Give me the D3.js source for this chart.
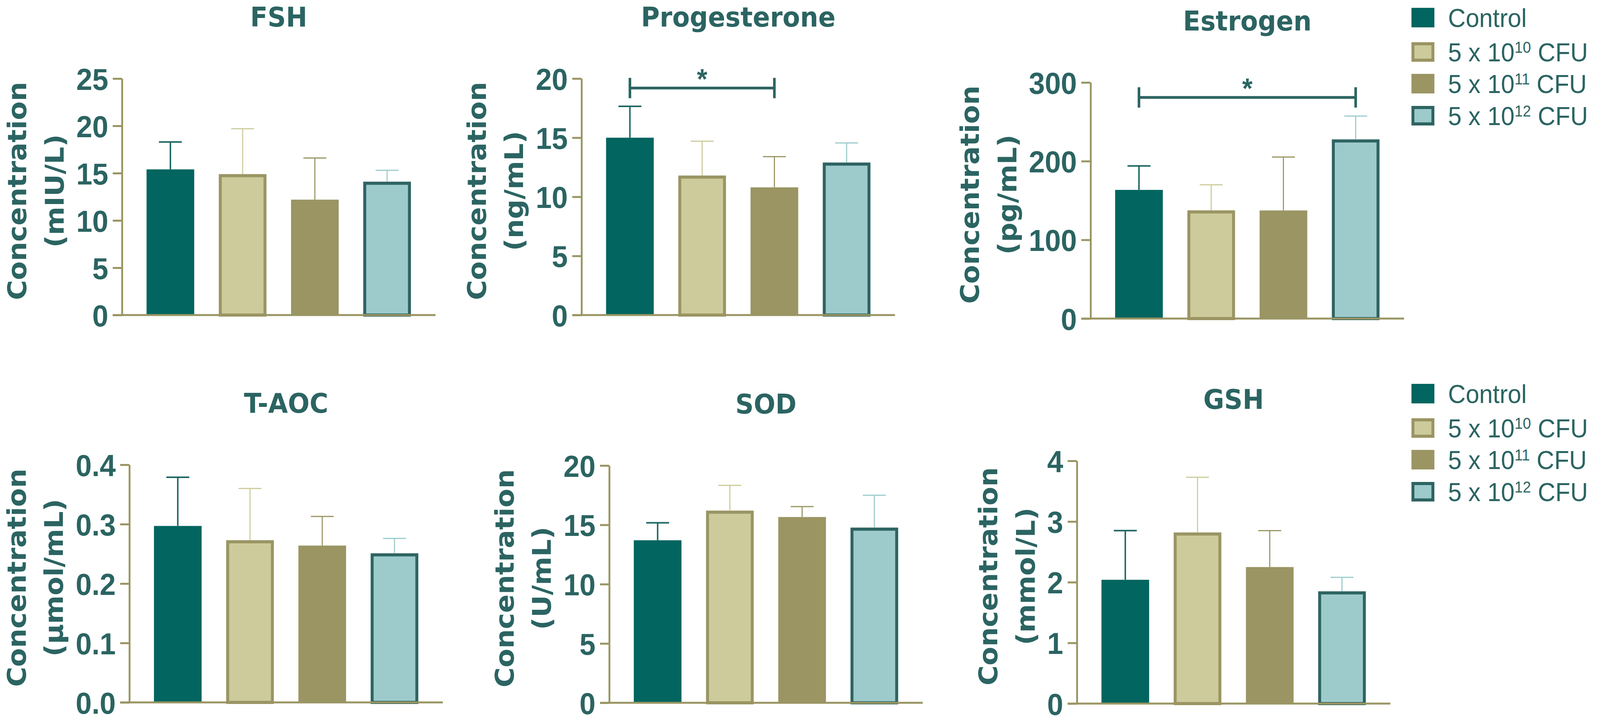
<!DOCTYPE html>
<html>
<head>
<meta charset="utf-8">
<script src="https://cdn.jsdelivr.net/npm/d3@7"></script>
<style>
  body { margin: 0; background: #fff; overflow: hidden; }
  svg { display: block; }
</style>
</head>
<body>
<div id="chart"></div>
<script>
// groups, in legend order
const groups = ['Control', '5 x 10^10 CFU', '5 x 10^11 CFU', '5 x 10^12 CFU'];
const groupExp = ['', '10', '11', '12'];

// values (mean, upper error)
const fshMean = [15.4, 14.9, 12.2, 14.1];
const fshErr = [2.9, 4.8, 4.4, 1.2];
const fshTicks = [0, 5, 10, 15, 20, 25];

const progMean = [15.0, 11.8, 10.8, 12.9];
const progErr = [2.65, 2.9, 2.6, 1.65];
const progTicks = [0, 5, 10, 15, 20];
const progSig = [{ from: 0, to: 2, y: 19.2, label: '*' }];

const estMean = [163.5, 137.5, 137.4, 227.7];
const estErr = [30.5, 32.5, 67.8, 29.6];
const estTicks = [0, 100, 200, 300];
const estSig = [{ from: 0, to: 3, y: 281, label: '*' }];

const taocMean = [0.297, 0.273, 0.264, 0.251];
const taocErr = [0.082, 0.087, 0.049, 0.025];
const taocTicks = [0, 0.1, 0.2, 0.3, 0.4];

const sodMean = [13.7, 16.2, 15.66, 14.77];
const sodErr = [1.47, 2.13, 0.88, 2.73];
const sodTicks = [0, 5, 10, 15, 20];

const gshMean = [2.04, 2.82, 2.25, 1.85];
const gshErr = [0.81, 0.91, 0.60, 0.23];
const gshTicks = [0, 1, 2, 3, 4];

const teal = '#2b6462';
const olive = '#9a9563';
const fills = ['#02655f', '#cdcb9b', '#9a9563', '#9dcbcc'];
const outlines = [null, '#9a9563', null, '#2e6462'];
const errColors = ['#1d6762', '#cdcb9b', '#9a9563', '#9dcbcc'];
const errWidths = [4, 3, 3, 3];

const panels = [
  { title: 'FSH', unit: '(mIU/L)', mean: fshMean, err: fshErr, ticks: fshTicks, fmt: d3.format('d'), axisX: 330, top: 201, bottom: 806 },
  { title: 'Progesterone', unit: '(ng/mL)', mean: progMean, err: progErr, ticks: progTicks, fmt: d3.format('d'), sig: progSig, axisX: 1573, top: 201, bottom: 806 },
  { title: 'Estrogen', unit: '(pg/mL)', mean: estMean, err: estErr, ticks: estTicks, fmt: d3.format('d'), sig: estSig, axisX: 2950, top: 211, bottom: 815 },
  { title: 'T-AOC', unit: '(µmol/mL)', mean: taocMean, err: taocErr, ticks: taocTicks, fmt: d3.format('.1f'), axisX: 350, top: 1189, bottom: 1797 },
  { title: 'SOD', unit: '(U/mL)', mean: sodMean, err: sodErr, ticks: sodTicks, fmt: d3.format('d'), axisX: 1648, top: 1191, bottom: 1798 },
  { title: 'GSH', unit: '(mmol/L)', mean: gshMean, err: gshErr, ticks: gshTicks, fmt: d3.format('d'), axisX: 2913, top: 1179, bottom: 1800 }
];

// the figure is laid out in a 4328 x 1842 frame and stretched to the window
const frameW = 4328;
const frameH = 1842;
const plotWidth = 848;
const tickLen = 25;
const tickPad = 12;

const svg = d3.select('#chart').append('svg')
  .attr('width', window.innerWidth)
  .attr('height', window.innerHeight)
  .attr('viewBox', `0 0 ${frameW} ${frameH}`)
  .attr('preserveAspectRatio', 'none');

svg.append('rect')
  .attr('width', frameW)
  .attr('height', frameH)
  .attr('fill', '#fff');

function makePanel(p) {
  const g = svg.append('g');

  const x = d3.scaleBand()
    .domain(groups)
    .range([p.axisX, p.axisX + plotWidth])
    .paddingInner(0.34)
    .paddingOuter(0.34);

  const y = d3.scaleLinear()
    .domain([0, d3.max(p.ticks)])
    .range([p.bottom, p.top]);

  const rows = groups.map((grp, i) => ({ grp, i, mean: p.mean[i], err: p.err[i] }));

  // bars, outlined ones drawn with the stroke inside the band
  g.append('g')
    .selectAll('rect')
    .data(rows)
    .join('rect')
    .attr('x', d => outlines[d.i] ? x(d.grp) + 4 : x(d.grp))
    .attr('y', d => outlines[d.i] ? y(d.mean) + 4 : y(d.mean))
    .attr('width', d => outlines[d.i] ? x.bandwidth() - 8 : x.bandwidth())
    .attr('height', d => outlines[d.i] ? y(0) - y(d.mean) - 4 : y(0) - y(d.mean))
    .attr('fill', d => fills[d.i])
    .attr('stroke', d => outlines[d.i] || 'none')
    .attr('stroke-width', 8);

  // error bars (upper only)
  const errG = g.append('g')
    .selectAll('g')
    .data(rows)
    .join('g')
    .attr('stroke', d => errColors[d.i])
    .attr('stroke-width', d => errWidths[d.i]);

  errG.append('line')
    .attr('x1', d => x(d.grp) + x.bandwidth() / 2)
    .attr('x2', d => x(d.grp) + x.bandwidth() / 2)
    .attr('y1', d => y(d.mean))
    .attr('y2', d => y(d.mean + d.err));

  errG.append('line')
    .attr('x1', d => x(d.grp) + x.bandwidth() / 2 - 31)
    .attr('x2', d => x(d.grp) + x.bandwidth() / 2 + 31)
    .attr('y1', d => y(d.mean + d.err))
    .attr('y2', d => y(d.mean + d.err));

  // y axis
  const yAxis = d3.axisLeft(y)
    .tickValues(p.ticks)
    .tickFormat(p.fmt)
    .tickSize(tickLen)
    .tickSizeOuter(0)
    .tickPadding(tickPad);

  const yg = g.append('g')
    .attr('transform', `translate(${p.axisX},0)`)
    .call(yAxis);

  yg.select('.domain')
    .attr('stroke', olive)
    .attr('stroke-width', 5);
  yg.selectAll('.tick line')
    .attr('stroke', olive)
    .attr('stroke-width', 5);
  yg.selectAll('.tick text')
    .attr('fill', teal)
    .attr('font-family', '"Liberation Sans", Arial, sans-serif')
    .attr('font-weight', 'bold')
    .attr('font-size', 78)
    .attr('dy', '0.36em');

  // x axis line
  g.append('line')
    .attr('x1', p.axisX - tickLen)
    .attr('x2', p.axisX + plotWidth)
    .attr('y1', y(0))
    .attr('y2', y(0))
    .attr('stroke', olive)
    .attr('stroke-width', 5);

  // title
  g.append('text')
    .attr('x', p.axisX + plotWidth / 2)
    .attr('y', p.top - 133)
    .attr('text-anchor', 'middle')
    .attr('fill', teal)
    .attr('font-family', '"DejaVu Sans", sans-serif')
    .attr('font-weight', 'bold')
    .attr('font-size', 69)
    .text(p.title);

  // y axis title, placed left of the widest tick label
  const maxW = d3.max(yg.selectAll('.tick text').nodes(), n => n.getComputedTextLength());
  const lx2 = p.axisX - tickLen - tickPad - maxW - 34;
  const lx1 = lx2 - 101;
  const cy = (p.top + p.bottom) / 2 - 15;

  g.selectAll('.ylabel')
    .data([['Concentration', lx1], [p.unit, lx2]])
    .join('text')
    .attr('class', 'ylabel')
    .attr('transform', d => `translate(${d[1]},${cy}) rotate(-90)`)
    .attr('text-anchor', 'middle')
    .attr('fill', teal)
    .attr('font-family', '"DejaVu Sans", sans-serif')
    .attr('font-weight', 'bold')
    .attr('font-size', 70)
    .text(d => d[0]);

  // significance brackets
  if (p.sig) {
    const cx = i => x(groups[i]) + x.bandwidth() / 2;
    const sg = g.append('g')
      .selectAll('g')
      .data(p.sig)
      .join('g');

    sg.append('path')
      .attr('d', d => `M${cx(d.from)},${y(d.y) - 26}V${y(d.y) + 26}M${cx(d.from)},${y(d.y)}H${cx(d.to)}M${cx(d.to)},${y(d.y) - 26}V${y(d.y) + 26}`)
      .attr('fill', 'none')
      .attr('stroke', teal)
      .attr('stroke-width', 7);

    sg.append('text')
      .attr('x', d => (cx(d.from) + cx(d.to)) / 2)
      .attr('y', d => y(d.y) + 2)
      .attr('text-anchor', 'middle')
      .attr('fill', teal)
      .attr('font-family', '"Liberation Sans", Arial, sans-serif')
      .attr('font-weight', 'bold')
      .attr('font-size', 72)
      .text(d => d.label);
  }
}

panels.forEach(makePanel);

// legends
const legendSpots = [{ x: 3818, y: 45 }, { x: 3818, y: 1007 }];
const legendOffsets = [0, 88, 169, 251];

legendSpots.forEach(spot => {
  const lg = svg.append('g')
    .selectAll('g')
    .data(groups)
    .join('g')
    .attr('transform', (d, i) => `translate(${spot.x},${spot.y + legendOffsets[i]})`);

  lg.append('rect')
    .attr('x', (d, i) => outlines[i] ? 4 : 0)
    .attr('y', (d, i) => outlines[i] ? -21 : -25)
    .attr('width', (d, i) => outlines[i] ? 54 : 62)
    .attr('height', (d, i) => outlines[i] ? 42 : 50)
    .attr('fill', (d, i) => fills[i])
    .attr('stroke', (d, i) => outlines[i] || 'none')
    .attr('stroke-width', 8);

  const t = lg.append('text')
    .attr('x', 99)
    .attr('y', 0)
    .attr('dy', '0.36em')
    .attr('fill', teal)
    .attr('font-family', '"Liberation Sans", Arial, sans-serif')
    .attr('font-size', 66);

  t.filter((d, i) => !groupExp[i]).text(d => d);

  const dose = t.filter((d, i) => !!groupExp[i]);
  dose.append('tspan').text('5 x 10');
  dose.append('tspan')
    .attr('dy', -22)
    .attr('font-size', 40)
    .text(d => groupExp[groups.indexOf(d)]);
  dose.append('tspan')
    .attr('dy', 22)
    .text(' CFU');
});
</script>
</body>
</html>
